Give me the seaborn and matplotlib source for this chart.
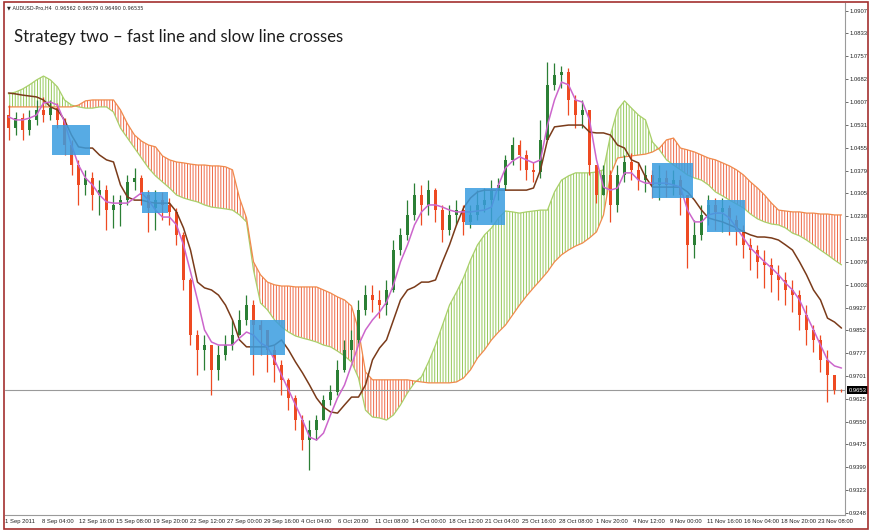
import numpy as np
import pandas as pd
import matplotlib
matplotlib.use("Agg")
import matplotlib.pyplot as plt
import seaborn as sns
from matplotlib.patches import Rectangle
from matplotlib.transforms import blended_transform_factory

# AUDUSD H4 candles (one entry per bar), prices
first_open = 1.0563
closes = [1.0520, 1.0553, 1.0514, 1.0547, 1.0580, 1.0563, 1.0586, 1.0547, 1.0464, 1.0398,
          1.0332, 1.0355, 1.0299, 1.0315, 1.0249, 1.0266, 1.0282, 1.0342, 1.0355, 1.0299,
          1.0256, 1.0282, 1.0266, 1.0243, 1.0167, 1.0018, 0.9836, 0.9787, 0.9803, 0.9721,
          0.9770, 0.9803, 0.9836, 0.9886, 0.9935, 0.9869, 0.9853, 0.9787, 0.9737, 0.9688,
          0.9628, 0.9555, 0.9489, 0.9522, 0.9555, 0.9621, 0.9648, 0.9721, 0.9787, 0.9820,
          0.9919, 0.9968, 0.9952, 0.9935, 0.9985, 1.0117, 1.0167, 1.0233, 1.0299, 1.0266,
          1.0315, 1.0249, 1.0183, 1.0233, 1.0249, 1.0210, 1.0233, 1.0266, 1.0282, 1.0315,
          1.0332, 1.0415, 1.0464, 1.0431, 1.0382, 1.0375, 1.0481, 1.0662, 1.0695, 1.0705,
          1.0613, 1.0563, 1.0580, 1.0398, 1.0299, 1.0365, 1.0266, 1.0365, 1.0408, 1.0382,
          1.0348, 1.0365, 1.0332, 1.0355, 1.0332, 1.0348, 1.0299, 1.0134, 1.0167, 1.0233,
          1.0266, 1.0243, 1.0256, 1.0216, 1.0183, 1.0134, 1.0117, 1.0078, 1.0068, 1.0035,
          1.0018, 0.9985, 0.9968, 0.9902, 0.9853, 0.9820, 0.9754, 0.9704, 0.9656, 0.96535]
highs = [1.0596, 1.0573, 1.0570, 1.0580, 1.0613, 1.0623, 1.0613, 1.0603, 1.0553, 1.0481,
         1.0415, 1.0382, 1.0375, 1.0348, 1.0332, 1.0299, 1.0299, 1.0365, 1.0388, 1.0365,
         1.0315, 1.0315, 1.0309, 1.0289, 1.0256, 1.0177, 1.0025, 0.9853, 0.9836, 0.9803,
         0.9803, 0.9836, 0.9886, 0.9919, 0.9968, 0.9952, 0.9886, 0.9853, 0.9803, 0.9754,
         0.9694, 0.9638, 0.9572, 0.9555, 0.9572, 0.9638, 0.9671, 0.9754, 0.9820, 0.9853,
         0.9952, 1.0002, 1.0002, 0.9985, 1.0018, 1.0150, 1.0190, 1.0282, 1.0338, 1.0332,
         1.0348, 1.0322, 1.0266, 1.0266, 1.0282, 1.0266, 1.0266, 1.0315, 1.0322, 1.0348,
         1.0355, 1.0431, 1.0491, 1.0481, 1.0448, 1.0408, 1.0547, 1.0738, 1.0735, 1.0725,
         1.0719, 1.0629, 1.0613, 1.0580, 1.0398, 1.0398, 1.0382, 1.0398, 1.0431, 1.0438,
         1.0408, 1.0398, 1.0382, 1.0398, 1.0382, 1.0382, 1.0365, 1.0299, 1.0216, 1.0266,
         1.0299, 1.0289, 1.0289, 1.0266, 1.0233, 1.0200, 1.0157, 1.0134, 1.0117, 1.0091,
         1.0068, 1.0045, 1.0018, 0.9985, 0.9935, 0.9869, 0.9836, 0.9787, 0.9700, 0.96579]
lows = [1.0481, 1.0497, 1.0481, 1.0497, 1.0530, 1.0540, 1.0547, 1.0520, 1.0431, 1.0365,
        1.0266, 1.0299, 1.0249, 1.0233, 1.0183, 1.0190, 1.0196, 1.0266, 1.0315, 1.0266,
        1.0177, 1.0183, 1.0216, 1.0200, 1.0134, 0.9985, 0.9803, 0.9704, 0.9721, 0.9638,
        0.9688, 0.9754, 0.9787, 0.9836, 0.9869, 0.9704, 0.9770, 0.9714, 0.9681, 0.9638,
        0.9588, 0.9522, 0.9456, 0.9390, 0.9489, 0.9555, 0.9605, 0.9638, 0.9714, 0.9754,
        0.9803, 0.9902, 0.9912, 0.9892, 0.9902, 0.9978, 1.0101, 1.0150, 1.0216, 1.0200,
        1.0233, 1.0210, 1.0144, 1.0167, 1.0200, 1.0167, 1.0190, 1.0216, 1.0243, 1.0210,
        1.0282, 1.0315, 1.0398, 1.0382, 1.0348, 1.0342, 1.0355, 1.0530, 1.0646, 1.0652,
        1.0563, 1.0520, 1.0520, 1.0365, 1.0272, 1.0299, 1.0210, 1.0243, 1.0342, 1.0348,
        1.0315, 1.0309, 1.0289, 1.0282, 1.0292, 1.0299, 1.0233, 1.0058, 1.0091, 1.0150,
        1.0200, 1.0183, 1.0177, 1.0167, 1.0134, 1.0091, 1.0051, 1.0025, 0.9992, 0.9978,
        0.9952, 0.9935, 0.9912, 0.9853, 0.9803, 0.9780, 0.9714, 0.9615, 0.9640, 0.96490]

# Ichimoku lines, one value per bar
tenkan = [1.0557, 1.0547, 1.0547, 1.0553, 1.0563, 1.0603, 1.0606, 1.0596, 1.0540, 1.0464,
          1.0398, 1.0355, 1.0332, 1.0299, 1.0276, 1.0272, 1.0272, 1.0272, 1.0289, 1.0306,
          1.0282, 1.0249, 1.0226, 1.0226, 1.0200, 1.0134, 1.0045, 0.9952, 0.9853, 0.9813,
          0.9803, 0.9803, 0.9803, 0.9826, 0.9846, 0.9836, 0.9810, 0.9797, 0.9754, 0.9704,
          0.9655, 0.9605, 0.9555, 0.9499, 0.9489, 0.9512, 0.9572, 0.9628, 0.9671, 0.9737,
          0.9803, 0.9853, 0.9886, 0.9912, 0.9945, 1.0002, 1.0078, 1.0134, 1.0200, 1.0243,
          1.0266, 1.0266, 1.0259, 1.0249, 1.0243, 1.0243, 1.0243, 1.0246, 1.0249, 1.0259,
          1.0332, 1.0388, 1.0411, 1.0425, 1.0415, 1.0405, 1.0415, 1.0530, 1.0613, 1.0672,
          1.0663, 1.0613, 1.0606, 1.0547, 1.0415, 1.0325, 1.0315, 1.0322, 1.0372, 1.0372,
          1.0348, 1.0338, 1.0338, 1.0338, 1.0338, 1.0332, 1.0325, 1.0249, 1.0210, 1.0210,
          1.0233, 1.0239, 1.0239, 1.0223, 1.0190, 1.0157, 1.0124, 1.0101, 1.0078, 1.0058,
          1.0035, 1.0008, 0.9985, 0.9952, 0.9902, 0.9853, 0.9803, 0.9754, 0.9734, 0.9727]
kijun = [1.0636, 1.0633, 1.0629, 1.0626, 1.0623, 1.0613, 1.0590, 1.0580, 1.0547, 1.0497,
         1.0458, 1.0454, 1.0454, 1.0431, 1.0415, 1.0408, 1.0332, 1.0292, 1.0282, 1.0282,
         1.0276, 1.0272, 1.0272, 1.0272, 1.0243, 1.0190, 1.0117, 1.0011, 0.9992, 0.9985,
         0.9968, 0.9935, 0.9886, 0.9820, 0.9797, 0.9797, 0.9797, 0.9797, 0.9803, 0.9820,
         0.9787, 0.9747, 0.9711, 0.9671, 0.9628, 0.9598, 0.9582, 0.9578, 0.9605, 0.9631,
         0.9631, 0.9671, 0.9754, 0.9793, 0.9820, 0.9886, 0.9952, 0.9985, 0.9995, 1.0011,
         1.0011, 1.0018, 1.0078, 1.0134, 1.0200, 1.0256, 1.0289, 1.0309, 1.0315, 1.0315,
         1.0315, 1.0315, 1.0315, 1.0315, 1.0315, 1.0322, 1.0382, 1.0481, 1.0524, 1.0527,
         1.0530, 1.0530, 1.0530, 1.0507, 1.0504, 1.0504, 1.0497, 1.0464, 1.0454, 1.0415,
         1.0405, 1.0358, 1.0325, 1.0325, 1.0325, 1.0325, 1.0325, 1.0309, 1.0282, 1.0249,
         1.0223, 1.0216, 1.0210, 1.0200, 1.0190, 1.0177, 1.0167, 1.0160, 1.0160, 1.0157,
         1.0150, 1.0134, 1.0117, 1.0078, 1.0035, 0.9985, 0.9952, 0.9892, 0.9879, 0.9859]
span_a = [1.0633, 1.0639, 1.0649, 1.0663, 1.0679, 1.0692, 1.0679, 1.0656, 1.0613, 1.0596,
          1.0590, 1.0586, 1.0586, 1.0590, 1.0590, 1.0573, 1.0520, 1.0487, 1.0454, 1.0421,
          1.0388, 1.0362, 1.0342, 1.0322, 1.0299, 1.0289, 1.0282, 1.0276, 1.0266, 1.0259,
          1.0256, 1.0253, 1.0249, 1.0233, 1.0210, 1.0051, 0.9942, 0.9919, 0.9886, 0.9863,
          0.9846, 0.9833, 0.9826, 0.9820, 0.9813, 0.9803, 0.9797, 0.9783, 0.9767, 0.9747,
          0.9694, 0.9588, 0.9565, 0.9562, 0.9555, 0.9572, 0.9605, 0.9645, 0.9678, 0.9698,
          0.9747, 0.9803, 0.9869, 0.9935, 0.9978, 1.0025, 1.0084, 1.0134, 1.0167, 1.0190,
          1.0223, 1.0246, 1.0243, 1.0239, 1.0243, 1.0246, 1.0249, 1.0249, 1.0309, 1.0348,
          1.0362, 1.0372, 1.0372, 1.0372, 1.0375, 1.0382, 1.0497, 1.0580, 1.0610, 1.0586,
          1.0563, 1.0547, 1.0474, 1.0448, 1.0415, 1.0398, 1.0382, 1.0365, 1.0355, 1.0348,
          1.0332, 1.0309, 1.0296, 1.0282, 1.0269, 1.0256, 1.0236, 1.0220, 1.0210, 1.0203,
          1.0200, 1.0190, 1.0173, 1.0164, 1.0150, 1.0134, 1.0117, 1.0101, 1.0084, 1.0068]
span_b = [1.0590, 1.0590, 1.0590, 1.0590, 1.0590, 1.0590, 1.0590, 1.0590, 1.0590, 1.0590,
          1.0596, 1.0610, 1.0613, 1.0613, 1.0613, 1.0613, 1.0580, 1.0534, 1.0497, 1.0477,
          1.0464, 1.0458, 1.0428, 1.0415, 1.0408, 1.0405, 1.0401, 1.0398, 1.0398, 1.0395,
          1.0395, 1.0392, 1.0382, 1.0289, 1.0223, 1.0078, 1.0035, 1.0011, 1.0002, 0.9998,
          0.9998, 0.9995, 0.9995, 0.9995, 0.9995, 0.9985, 0.9975, 0.9962, 0.9952, 0.9932,
          0.9853, 0.9714, 0.9688, 0.9688, 0.9688, 0.9688, 0.9688, 0.9688, 0.9684, 0.9681,
          0.9678, 0.9678, 0.9678, 0.9678, 0.9681, 0.9694, 0.9721, 0.9760, 0.9787, 0.9820,
          0.9846, 0.9869, 0.9902, 0.9935, 0.9965, 0.9992, 1.0018, 1.0045, 1.0078, 1.0101,
          1.0117, 1.0130, 1.0140, 1.0157, 1.0177, 1.0233, 1.0365, 1.0421, 1.0425, 1.0428,
          1.0431, 1.0434, 1.0441, 1.0454, 1.0481, 1.0487, 1.0454, 1.0448, 1.0441, 1.0431,
          1.0421, 1.0415, 1.0405, 1.0395, 1.0382, 1.0365, 1.0342, 1.0322, 1.0299, 1.0272,
          1.0249, 1.0246, 1.0243, 1.0243, 1.0239, 1.0239, 1.0236, 1.0236, 1.0233, 1.0233]

price_ticks = [1.0907, 1.0833, 1.0757, 1.0682, 1.0607, 1.0531, 1.0455, 1.0379, 1.0305,
               1.0230, 1.0155, 1.0079, 1.0003, 0.9927, 0.9852, 0.9777, 0.9701, 0.9625,
               0.9550, 0.9475, 0.9399, 0.9323, 0.9248]
time_labels = ["1 Sep 2011", "8 Sep 04:00", "12 Sep 16:00", "15 Sep 08:00", "19 Sep 20:00",
               "22 Sep 12:00", "27 Sep 00:00", "29 Sep 16:00", "4 Oct 04:00", "6 Oct 20:00",
               "11 Oct 08:00", "14 Oct 00:00", "18 Oct 12:00", "21 Oct 04:00", "25 Oct 16:00",
               "28 Oct 08:00", "1 Nov 20:00", "4 Nov 12:00", "9 Nov 00:00", "11 Nov 16:00",
               "16 Nov 04:00", "18 Nov 20:00", "23 Nov 08:00"]
header = "\u25bc AUDUSD-Pro,H4  0.96562 0.96579 0.96490 0.96535"
title = "Strategy two \u2013 fast line and slow line crosses"

# highlighted crossings: (first bar, last bar, low price, high price)
signal_boxes = [(6.2, 11.6, 1.0431, 1.0530), (19.1, 22.8, 1.0240, 1.0309),
                (34.5, 39.5, 0.9770, 0.9886), (65.2, 70.9, 1.0200, 1.0322),
                (91.9, 97.8, 1.0289, 1.0405), (99.8, 105.2, 1.0177, 1.0282)]

# styling
BULL, BEAR = "#2b7f35", "#ee4a22"
PINK, BROWN = "#cc66cc", "#7a3b1a"
SPAN_A_C, SPAN_B_C = "#a9d06a", "#f08a4c"
HATCH_UP, HATCH_DN = "#95c95a", "#ef6a48"

sns.set_style("white")
plt.rcParams["font.family"] = ["Liberation Sans", "DejaVu Sans"]
plt.rcParams["hatch.linewidth"] = 0.7

df = pd.DataFrame({"bar": np.arange(len(closes)), "close": closes, "high": highs,
                   "low": lows, "tenkan": tenkan, "kijun": kijun,
                   "span_a": span_a, "span_b": span_b})
df["open"] = [first_open] + closes[:-1]

fig = plt.figure(figsize=(8.75, 5.31), dpi=100)
ax = fig.add_axes([5 / 875, 16 / 531, 840 / 875, 512 / 531])
ax.set_facecolor("white")

x = df["bar"].to_numpy()
a = df["span_a"].to_numpy()
b = df["span_b"].to_numpy()

# cloud
ax.fill_between(x, a, b, where=a >= b, interpolate=True, facecolor="none",
                edgecolor=HATCH_UP, hatch="||||||", linewidth=0, zorder=1)
ax.fill_between(x, a, b, where=a < b, interpolate=True, facecolor="none",
                edgecolor=HATCH_DN, hatch="||||||", linewidth=0, zorder=1)
sns.lineplot(data=df, x="bar", y="span_a", color=SPAN_A_C, lw=0.9, ax=ax, zorder=2)
sns.lineplot(data=df, x="bar", y="span_b", color=SPAN_B_C, lw=0.9, ax=ax, zorder=2)

# candles
up = df["close"] >= df["open"]
colors = np.where(up, BULL, BEAR)
ax.vlines(x, df["low"], df["high"], colors=colors, lw=0.9, zorder=3)
ax.bar(x, df["close"] - df["open"], bottom=df["open"], width=0.55,
       color=colors, linewidth=0, zorder=3)

# tenkan / kijun
sns.lineplot(data=df, x="bar", y="kijun", color=BROWN, lw=1.1, ax=ax, zorder=4)
sns.lineplot(data=df, x="bar", y="tenkan", color=PINK, lw=1.1, ax=ax, zorder=4)

for x0, x1, y0, y1 in signal_boxes:
    ax.add_patch(Rectangle((x0, y0), x1 - x0, y1 - y0, facecolor="#3a9de0",
                           edgecolor="none", alpha=0.85, zorder=5))

# bid line and price tag
last = closes[-1]
ax.axhline(last, color="#9a9a9a", lw=0.8, zorder=2)
tr = blended_transform_factory(ax.transAxes, ax.transData)
ax.text(1.004, last, "0.9653", transform=tr, fontsize=4.2, color="white",
        va="center", ha="left", clip_on=False,
        bbox=dict(boxstyle="square,pad=0.25", fc="black", ec="none"))

ax.set_xlim(-0.5, len(closes) - 0.5)
ax.set_ylim(0.92413, 1.09334)
ax.set_xlabel("")
ax.set_ylabel("")

ax.yaxis.tick_right()
ax.set_yticks(price_ticks)
ax.set_yticklabels([f"{t:.4f}" for t in price_ticks])
ax.set_xticks([-0.5 + k * 5.28 for k in range(len(time_labels))])
ax.set_xticklabels(time_labels, ha="left")
ax.tick_params(axis="both", direction="out", length=2, width=0.6, color="#555555",
               labelsize=4.2, labelcolor="#222222", pad=1)

for side in ["left", "top"]:
    ax.spines[side].set_visible(False)
for side in ["right", "bottom"]:
    ax.spines[side].set_color("#9a9a9a")
    ax.spines[side].set_linewidth(0.8)

fig.patches.append(Rectangle((4 / 875, 2 / 531), 864 / 875, 527 / 531,
                             transform=fig.transFigure, fill=False,
                             edgecolor="#a3302f", lw=1.2))

fig.text(7 / 875, 1 - 8 / 531, header, fontsize=3.6, va="center", ha="left",
         color="#222222", family=["DejaVu Sans"])
fig.text(14 / 875, 1 - 42 / 531, title, fontsize=12.1, va="baseline", ha="left",
         color="#1e1e1e", family=["Lato", "DejaVu Sans"])

fig.savefig("out.png", dpi=100)
